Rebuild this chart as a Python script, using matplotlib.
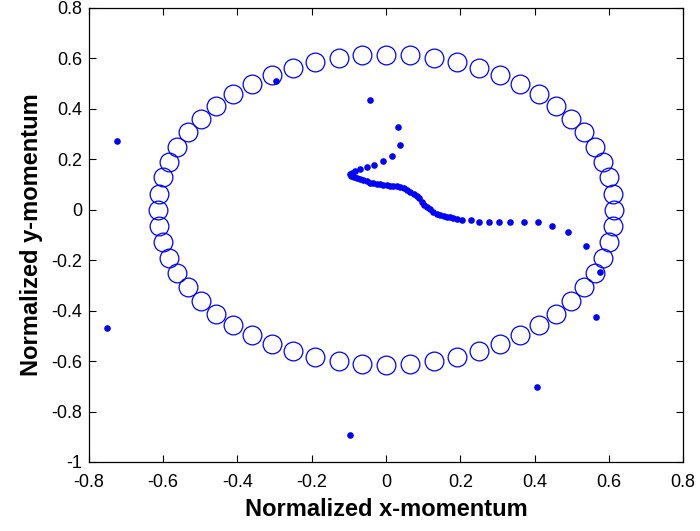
import numpy as np
import matplotlib
matplotlib.use("Agg")
import matplotlib.pyplot as plt

# ring of reference states (open circles)
ring_radius = 0.615
ring_angles_deg = np.arange(0, 360, 6)

# trajectory points (filled dots)
traj_x = [-0.043, 0.033, 0.038, 0.017, -0.007, -0.032, -0.052, -0.070, -0.084,
          -0.092, -0.097, -0.094, -0.087, -0.079, -0.070, -0.061, -0.052, -0.043,
          -0.034, -0.025, -0.016, -0.007, 0.002, 0.011, 0.020, 0.029, 0.038,
          0.047, 0.056, 0.065, 0.074, 0.083, 0.090, 0.096, 0.103, 0.110, 0.118,
          0.127, 0.136, 0.146, 0.155, 0.164, 0.172, 0.181, 0.192, 0.204, 0.228,
          0.249, 0.277, 0.305, 0.334, 0.371, 0.408, 0.448, 0.490, 0.538, 0.575,
          0.566, 0.407]
traj_y = [0.437, 0.328, 0.258, 0.214, 0.192, 0.176, 0.169, 0.161, 0.155,
          0.146, 0.140, 0.134, 0.129, 0.126, 0.121, 0.116, 0.112, 0.108,
          0.105, 0.103, 0.101, 0.099, 0.097, 0.095, 0.094, 0.093, 0.090,
          0.086, 0.080, 0.072, 0.062, 0.053, 0.046, 0.030, 0.020, 0.010, 0.002,
          -0.008, -0.016, -0.022, -0.025, -0.028, -0.030, -0.033, -0.036, -0.042, -0.042,
          -0.049, -0.049, -0.049, -0.049, -0.049, -0.049, -0.066, -0.090, -0.144, -0.245,
          -0.425, -0.701]

# stray points
stray_x = [-0.724, -0.295, -0.752, -0.097]
stray_y = [0.272, 0.512, -0.469, -0.893]

x_ticks = [-0.8, -0.6, -0.4, -0.2, 0, 0.2, 0.4, 0.6, 0.8]
y_ticks = [-1, -0.8, -0.6, -0.4, -0.2, 0, 0.2, 0.4, 0.6, 0.8]

plt.rcParams["font.family"] = ["Liberation Sans", "DejaVu Sans"]

fig = plt.figure(figsize=(7, 5.31), dpi=100)
ax = fig.add_axes([0.127, 0.13, 0.849, 0.855])

th = np.deg2rad(ring_angles_deg)
ax.plot(ring_radius * np.cos(th), ring_radius * np.sin(th), "o",
        markerfacecolor="none", markeredgecolor="blue",
        markersize=13.5, markeredgewidth=0.9, linestyle="none")

ax.plot(traj_x, traj_y, ".", color="blue", markersize=7.5, linestyle="none")
ax.plot(stray_x, stray_y, ".", color="blue", markersize=7.5, linestyle="none")

ax.set_xlim(-0.8, 0.8)
ax.set_ylim(-1, 0.8)
ax.set_xticks(x_ticks)
ax.set_yticks(y_ticks)
ax.set_xticklabels([f"{t:g}" for t in x_ticks])
ax.set_yticklabels([f"{t:g}" for t in y_ticks])
ax.tick_params(direction="in", length=5, width=0.8, top=True, right=True,
               labelsize=13)
ax.tick_params(axis="x", pad=9)
ax.tick_params(axis="y", pad=5)
for s in ax.spines.values():
    s.set_linewidth(0.9)

ax.set_xlabel("Normalized x-momentum", fontsize=17, fontweight="bold", labelpad=5)
ax.set_ylabel("Normalized y-momentum", fontsize=17, fontweight="bold", labelpad=6)

fig.savefig("out.png", dpi=100)
